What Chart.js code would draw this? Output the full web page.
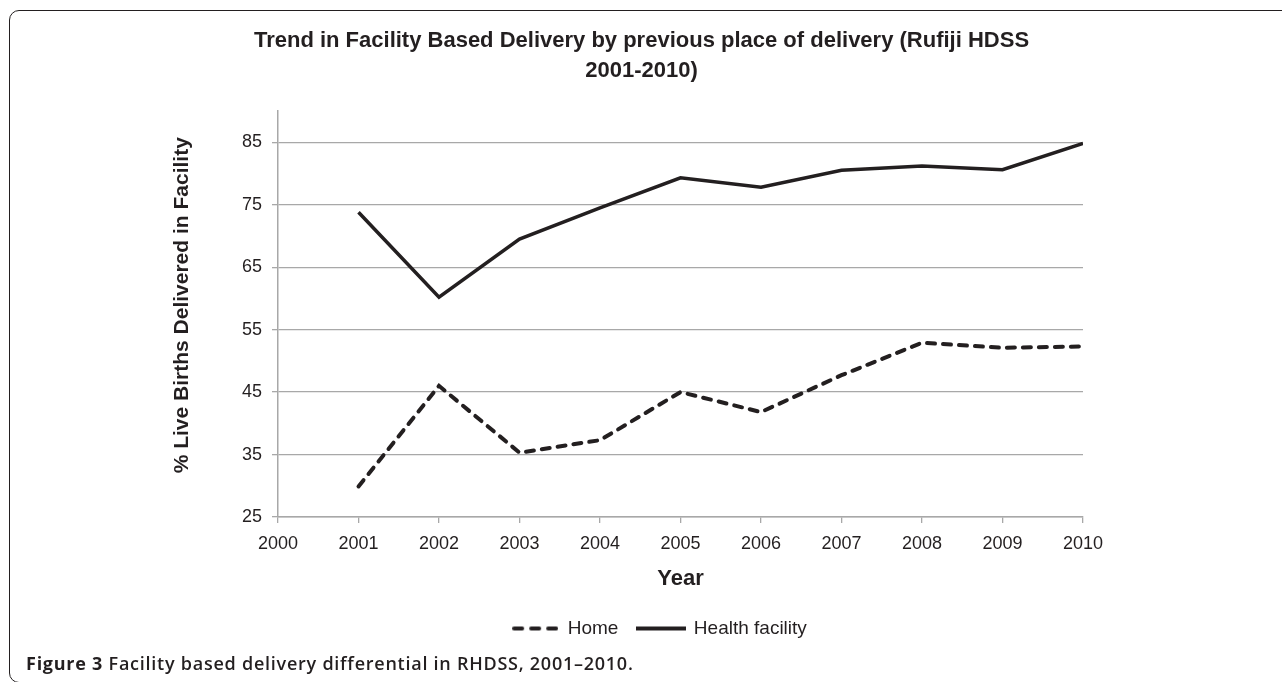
<!DOCTYPE html>
<html>
<head>
<meta charset="utf-8">
<script src="https://cdn.jsdelivr.net/npm/chart.js@4.4.0/dist/chart.umd.min.js"></script>
<style>
  html, body { margin: 0; padding: 0; background: #fff; }
  body { width: 1282px; height: 682px; position: relative; overflow: hidden; }
  .frame {
    position: absolute; left: 9px; top: 10px; width: 1300px; height: 671px;
    border: 1.5px solid #231f20; border-radius: 10px;
  }
  #chart { position: absolute; left: 0; top: 0; }
  .caption {
    position: absolute; left: 26px; top: 651px; letter-spacing: 0.75px;
    font-family: "Open Sans", sans-serif; font-weight: 600; font-size: 18px; color: #231f20;
  }
  .caption b { font-weight: 700; }
</style>
</head>
<body>
<div class="frame"></div>
<canvas id="chart" width="1282" height="682"></canvas>
<div class="caption"><b>Figure 3</b> Facility based delivery differential in RHDSS, 2001–2010.</div>
<script>
const years = [2001, 2002, 2003, 2004, 2005, 2006, 2007, 2008, 2009, 2010];
const home = [29.9, 46.0, 35.3, 37.3, 45.0, 41.8, 47.7, 52.9, 52.1, 52.3];
const healthFacility = [73.8, 60.2, 69.5, 74.5, 79.3, 77.8, 80.5, 81.2, 80.6, 84.8];
const yTicks = [25, 35, 45, 55, 65, 75, 85];

const ink = '#231f20';
const gridGrey = '#a8a8a8';
const font = '"Liberation Sans", Arial, sans-serif';

const toPoints = (vals) => vals.map((v, i) => ({ x: years[i], y: v }));

// little line swatches for the legend (the built-in 'line' point style drops the dash)
function swatch(width, dash, cap) {
  const c = document.createElement('canvas');
  c.width = width; c.height = 6;
  const g = c.getContext('2d');
  g.strokeStyle = ink; g.lineWidth = 4; g.lineCap = cap;
  g.setLineDash(dash);
  g.beginPath(); g.moveTo(cap === 'round' ? 2 : 0, 3); g.lineTo(width, 3); g.stroke();
  return c;
}

// move title and legend sideways to where the figure has them
const nudge = {
  id: 'nudge',
  afterLayout(chart) {
    [[chart.titleBlock, 15], [chart.legend, 33]].forEach(([box, dx]) => {
      box.left += dx; box.right += dx;
    });
  }
};

new Chart(document.getElementById('chart'), {
  type: 'line',
  plugins: [nudge],
  data: {
    datasets: [
      {
        label: 'Home',
        data: toPoints(home),
        borderColor: ink,
        backgroundColor: ink,
        borderWidth: 4,
        borderDash: [8, 8],
        borderCapStyle: 'round',
        pointRadius: 0,
        pointStyle: swatch(46, [8, 9], 'round'),
        tension: 0
      },
      {
        label: 'Health facility',
        data: toPoints(healthFacility),
        borderColor: ink,
        backgroundColor: ink,
        borderWidth: 3.5,
        pointRadius: 0,
        pointStyle: swatch(50, [], 'butt'),
        tension: 0
      }
    ]
  },
  options: {
    responsive: false,
    devicePixelRatio: 1,
    animation: false,
    layout: { padding: { top: 26, left: 170, right: 199, bottom: 34 } },
    plugins: {
      title: {
        display: true,
        text: ['Trend in Facility Based Delivery by previous place of delivery (Rufiji HDSS', '2001-2010)'],
        color: ink,
        font: { family: font, size: 22, weight: 'bold', lineHeight: 30 / 22 },
        padding: { top: 0, bottom: 25 }
      },
      legend: {
        position: 'bottom',
        labels: {
          color: ink,
          font: { family: font, size: 19 },
          usePointStyle: true,
          pointStyleWidth: 46,
          padding: 20
        }
      },
      tooltip: { enabled: false }
    },
    scales: {
      x: {
        type: 'linear',
        min: 2000,
        max: 2010,
        afterFit: (s) => { s.height = 82; },
        ticks: {
          stepSize: 1,
          color: ink,
          padding: 10,
          font: { family: font, size: 18 },
          callback: (v) => String(v)
        },
        grid: { drawOnChartArea: false, drawTicks: true, tickLength: 6, color: gridGrey, lineWidth: 1.3 },
        border: { color: gridGrey, width: 1.5 },
        title: {
          display: true,
          text: 'Year',
          color: ink,
          font: { family: font, size: 22, weight: 'bold' },
          padding: { top: 0, bottom: 7 }
        }
      },
      y: {
        min: 25,
        max: 90,
        afterFit: (s) => { s.width = 108; },
        afterBuildTicks: (s) => { s.ticks = yTicks.map((v) => ({ value: v })); },
        ticks: {
          color: ink,
          padding: 10,
          font: { family: font, size: 18 }
        },
        grid: { color: gridGrey, lineWidth: 1.3, tickLength: 6 },
        border: { color: gridGrey, width: 1.5 },
        title: {
          display: true,
          // leading spaces lift the label a little, as in the figure
          text: '   % Live Births Delivered in Facility',
          color: ink,
          font: { family: font, size: 21, weight: 'bold' },
          padding: { top: 0, bottom: 0 }
        }
      }
    }
  }
});
</script>
</body>
</html>
